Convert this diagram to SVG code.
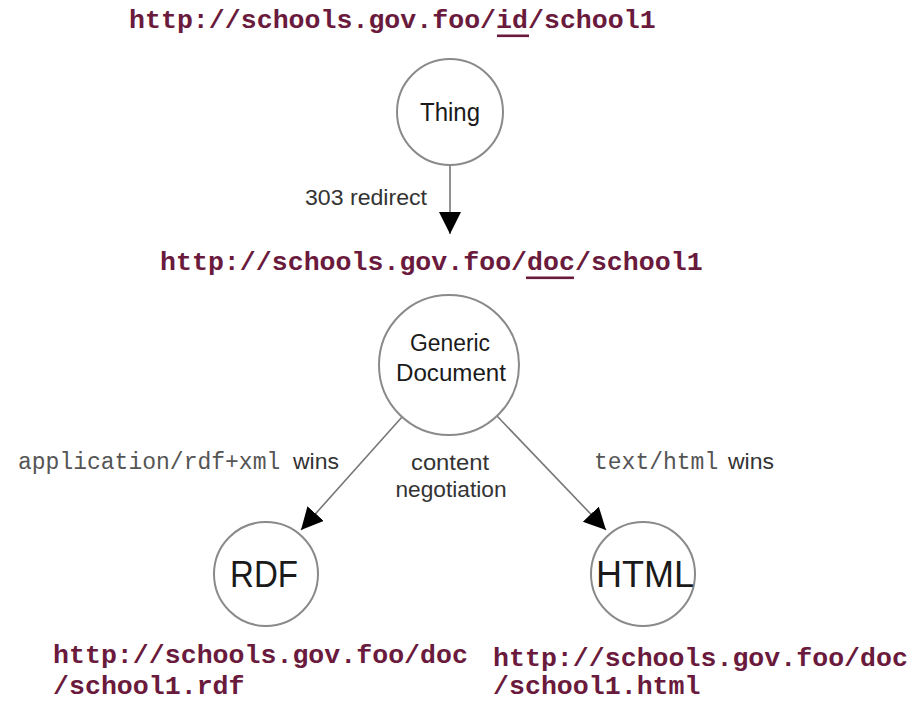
<svg xmlns="http://www.w3.org/2000/svg" width="913" height="703" viewBox="0 0 913 703">
<style>
.url{font-family:"Liberation Mono","Courier New",monospace;font-weight:bold;font-size:26.6px;fill:#6a1a3c}
.ul{fill:#6a1a3c}
.node{fill:#fff;stroke:#8a8a8a;stroke-width:2}
.nl{font-family:"Liberation Sans",Arial,Helvetica,sans-serif;fill:#1a1a1a;text-anchor:middle}
.lbl{font-family:"Liberation Sans",Arial,Helvetica,sans-serif;font-size:22px;fill:#333}
.mono{font-family:"Liberation Mono","Courier New",monospace;font-size:23px;fill:#555}
.edge{stroke:#777;stroke-width:1.6;fill:none}
</style>
<defs>
<marker id="arr" markerUnits="userSpaceOnUse" markerWidth="24" markerHeight="24" refX="22" refY="11" orient="auto">
<path d="M0,0 L22,11 L0,22 z" fill="#000"/>
</marker>
</defs>
<rect width="913" height="703" fill="#fff"/>

<g id="url-id">
<text class="url" x="129" y="28">http://schools.gov.foo/id/school1</text>
<rect class="ul" x="497" y="34.5" width="32" height="2.6"/>
</g>

<g id="connectors">
<line class="edge" x1="450" y1="165" x2="450" y2="234" marker-end="url(#arr)"/>
<line class="edge" x1="402" y1="417" x2="301" y2="530" marker-end="url(#arr)"/>
<line class="edge" x1="497" y1="416" x2="606" y2="530" marker-end="url(#arr)"/>
<text class="lbl" x="305" y="205" textLength="122" lengthAdjust="spacingAndGlyphs">303 redirect</text>
<text x="18" y="469"><tspan class="mono">application/rdf+xml</tspan><tspan class="lbl" x="293" textLength="46" lengthAdjust="spacingAndGlyphs">wins</tspan></text>
<text class="lbl" x="450" y="470" text-anchor="middle" textLength="78" lengthAdjust="spacingAndGlyphs">content</text>
<text class="lbl" x="451" y="497" text-anchor="middle" textLength="111" lengthAdjust="spacingAndGlyphs">negotiation</text>
<text x="594" y="469"><tspan class="mono">text/html</tspan><tspan class="lbl" x="728" textLength="46" lengthAdjust="spacingAndGlyphs">wins</tspan></text>
</g>

<g id="url-doc">
<text class="url" x="160" y="270">http://schools.gov.foo/doc/school1</text>
<rect class="ul" x="526" y="276.5" width="48" height="2.6"/>
</g>

<g id="node-thing">
<circle class="node" cx="450" cy="112" r="53"/>
<text class="nl" x="450" y="121" font-size="25" textLength="60" lengthAdjust="spacingAndGlyphs">Thing</text>
</g>

<g id="node-generic">
<circle class="node" cx="449" cy="365" r="70"/>
<text class="nl" x="450" y="351" font-size="23" textLength="80" lengthAdjust="spacingAndGlyphs">Generic</text>
<text class="nl" x="451" y="381" font-size="23" textLength="110" lengthAdjust="spacingAndGlyphs">Document</text>
</g>

<g id="node-rdf">
<circle class="node" cx="266" cy="574" r="52"/>
<text class="nl" x="264" y="587" font-size="36" textLength="68" lengthAdjust="spacingAndGlyphs">RDF</text>
</g>

<g id="node-html">
<circle class="node" cx="643" cy="574" r="52"/>
<text class="nl" x="645" y="587" font-size="36" textLength="98" lengthAdjust="spacingAndGlyphs">HTML</text>
</g>

<g id="url-rdf">
<text class="url" x="53" y="663">http://schools.gov.foo/doc</text>
<text class="url" x="53" y="694">/school1.rdf</text>
</g>

<g id="url-html">
<text class="url" x="493" y="666">http://schools.gov.foo/doc</text>
<text class="url" x="493" y="694">/school1.html</text>
</g>
</svg>
